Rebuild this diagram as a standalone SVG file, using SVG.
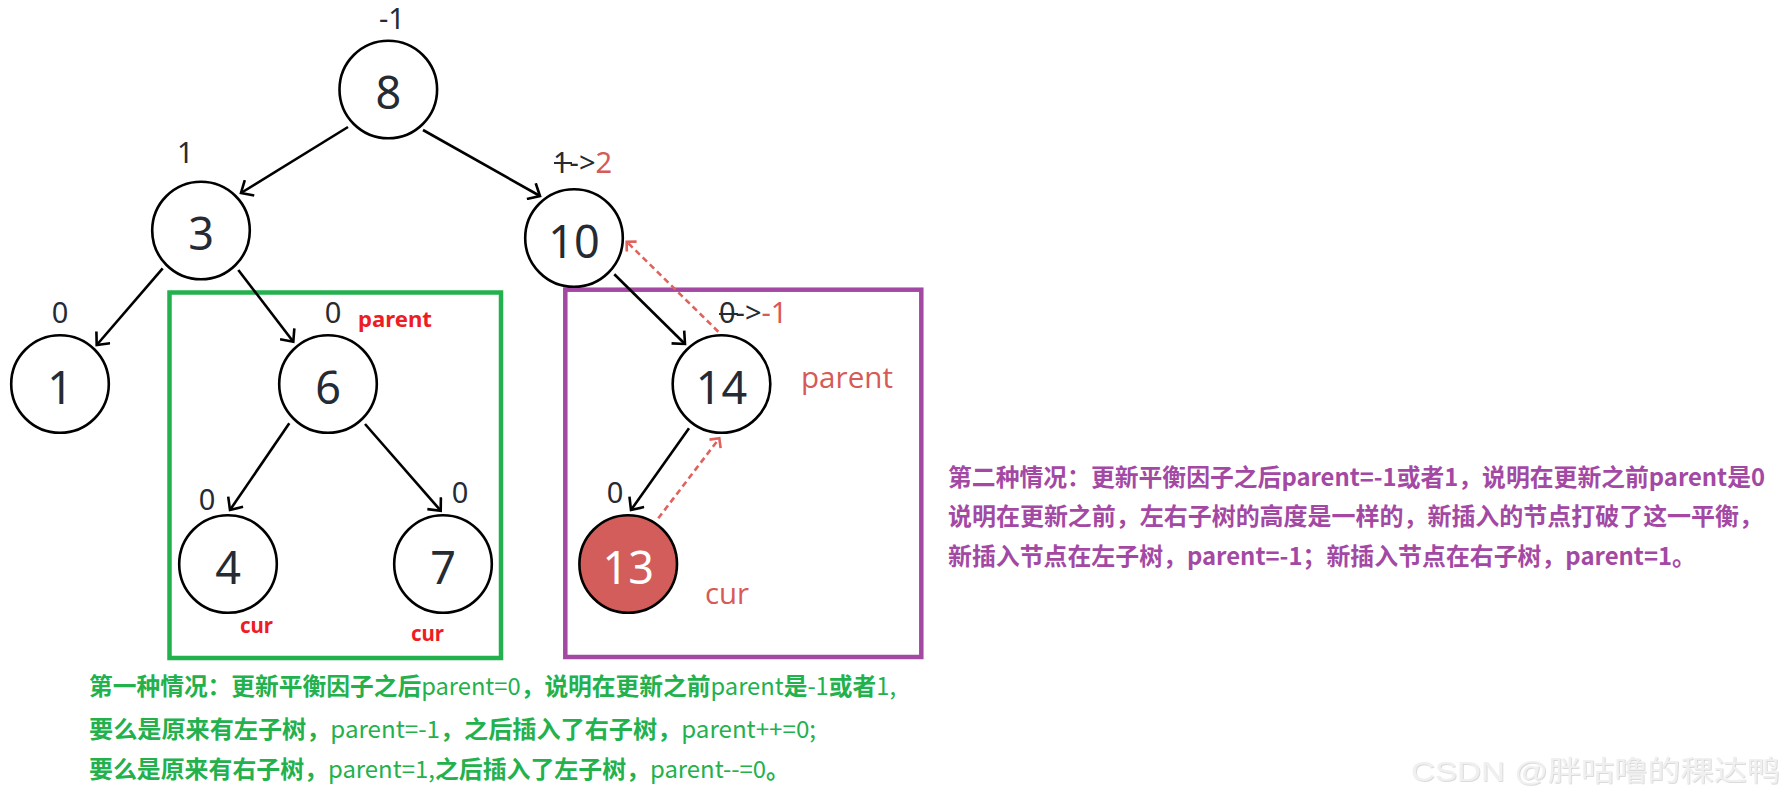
<svg xmlns="http://www.w3.org/2000/svg" width="1787" height="810" viewBox="0 0 1787 810">
<style>
.node circle{fill:#fff;stroke:#000;stroke-width:2.6}
.num{font-family:"Noto Sans","DejaVu Sans",sans-serif;font-size:45px;fill:#262b33;text-anchor:middle}
.bf{font-family:"Noto Sans","DejaVu Sans",sans-serif;font-size:29px;fill:#262b33}
.red{fill:#d65a56}
.edge{stroke:#000;stroke-width:2.6;fill:none;marker-end:url(#arr)}
.back{stroke:#e0625d;stroke-width:2.6;stroke-dasharray:6 4;fill:none;marker-end:url(#arrR)}
.lbl{font-family:"Open Sans","Noto Sans",sans-serif;font-size:30px;fill:#d65a56}
.lblb{font-family:"Noto Sans","Liberation Sans",sans-serif;font-weight:bold;font-size:22px;fill:#ee1c25}
.note{font-family:"Noto Sans CJK SC","Noto Sans",sans-serif;font-size:24px;font-weight:bold}
.g{fill:#22b14c}
.p{fill:#a349a4}
.lat{font-weight:normal}
</style>
<defs>
<marker id="arr" viewBox="0 0 20 20" refX="16" refY="10" markerWidth="20" markerHeight="20" markerUnits="userSpaceOnUse" orient="auto">
<path d="M6,1 L16,10 L6,19" fill="none" stroke="#000" stroke-width="2.6"/>
</marker>
<marker id="arrR" viewBox="0 0 20 20" refX="16" refY="10" markerWidth="20" markerHeight="20" markerUnits="userSpaceOnUse" orient="auto">
<path d="M9,3 L16,10 L9,17" fill="none" stroke="#e0625d" stroke-width="2.6"/>
</marker>
<filter id="emb" x="-5%" y="-20%" width="110%" height="150%">
<feDropShadow dx="0.8" dy="0.8" stdDeviation="0.5" flood-color="#9a9a9a" flood-opacity="0.45"/>
</filter>
</defs>
<rect width="1787" height="810" fill="#fff"/>

<g id="frames">
<rect x="169.5" y="292.5" width="331.5" height="365.5" fill="none" stroke="#22b14c" stroke-width="4.5"/>
<rect x="565.3" y="289.7" width="356" height="367.3" fill="none" stroke="#a349a4" stroke-width="4.5"/>
</g>

<g id="connectors">
<line class="edge" x1="348" y1="127" x2="241" y2="193"/>
<line class="edge" x1="423" y1="130" x2="540" y2="196"/>
<line class="edge" x1="162.7" y1="268.3" x2="96.7" y2="345"/>
<line class="edge" x1="238.3" y1="270" x2="293.3" y2="341.7"/>
<line class="edge" x1="289.3" y1="423.3" x2="230" y2="510"/>
<line class="edge" x1="365" y1="424" x2="440.7" y2="510.7"/>
<line class="edge" x1="614.3" y1="274.3" x2="685" y2="344"/>
<line class="edge" x1="689" y1="428.3" x2="631" y2="510"/>
<line class="back" x1="658.3" y1="518.3" x2="719.3" y2="438.3"/>
<line class="back" x1="718.3" y1="331.7" x2="626.7" y2="241.7"/>
</g>

<g id="node8" class="node"><circle cx="388.3" cy="89.5" r="48.8"/><text class="num" x="388.3" y="109">8</text></g>
<g id="node3" class="node"><circle cx="201" cy="230.5" r="48.8"/><text class="num" x="201" y="250">3</text></g>
<g id="node10" class="node"><circle cx="574" cy="238" r="48.8"/><text class="num" x="574" y="257.5">10</text></g>
<g id="node1" class="node"><circle cx="60" cy="384" r="48.8"/><text class="num" x="60" y="403.5">1</text></g>
<g id="node6" class="node"><circle cx="328" cy="384" r="48.8"/><text class="num" x="328" y="403.5">6</text></g>
<g id="node4" class="node"><circle cx="228" cy="564" r="48.8"/><text class="num" x="228" y="583.5">4</text></g>
<g id="node7" class="node"><circle cx="443" cy="564" r="48.8"/><text class="num" x="443" y="583.5">7</text></g>
<g id="node14" class="node"><circle cx="721.5" cy="384" r="48.8"/><text class="num" x="721.5" y="403.5">14</text></g>
<g id="node13" class="node"><circle cx="628.2" cy="564" r="48.8" style="fill:#d35d5a"/><text class="num" x="628.2" y="583.5" style="fill:#fff">13</text></g>

<g id="labels">
<text class="bf" x="379" y="29">-1</text>
<text class="bf" x="177" y="163">1</text>
<text class="bf" x="553" y="172.7">1-&gt;<tspan class="red">2</tspan></text>
<line x1="554" y1="163" x2="572" y2="163" stroke="#262b33" stroke-width="2"/>
<text class="bf" x="60" y="323" text-anchor="middle">0</text>
<text class="bf" x="333" y="323" text-anchor="middle">0</text>
<text class="bf" x="207" y="510" text-anchor="middle">0</text>
<text class="bf" x="460" y="503" text-anchor="middle">0</text>
<text class="bf" x="615" y="503" text-anchor="middle">0</text>
<text class="bf" x="719" y="323">0-&gt;<tspan class="red">-1</tspan></text>
<line x1="719" y1="314" x2="738" y2="314" stroke="#262b33" stroke-width="2"/>
<text class="lblb" x="358" y="327" textLength="74" lengthAdjust="spacingAndGlyphs">parent</text>
<text class="lblb" x="240" y="633" textLength="33" lengthAdjust="spacingAndGlyphs">cur</text>
<text class="lblb" x="411" y="641" textLength="33" lengthAdjust="spacingAndGlyphs">cur</text>
<text class="lbl" x="801" y="388" textLength="92" lengthAdjust="spacingAndGlyphs">parent</text>
<text class="lbl" x="705" y="604" textLength="44" lengthAdjust="spacingAndGlyphs">cur</text>
</g>

<g id="case1">
<text class="note g" x="89" y="695" textLength="807" lengthAdjust="spacingAndGlyphs">第一种情况：更新平衡因子之后<tspan class="lat">parent=0</tspan>，说明在更新之前<tspan class="lat">parent</tspan>是<tspan class="lat">-1</tspan>或者<tspan class="lat">1,</tspan></text>
<text class="note g" x="89" y="738" textLength="727" lengthAdjust="spacingAndGlyphs">要么是原来有左子树，<tspan class="lat">parent=-1</tspan>，之后插入了右子树，<tspan class="lat">parent++=0;</tspan></text>
<text class="note g" x="89" y="778" textLength="701" lengthAdjust="spacingAndGlyphs">要么是原来有右子树，<tspan class="lat">parent=1,</tspan>之后插入了左子树，<tspan class="lat">parent--=0</tspan>。</text>
</g>

<g id="case2">
<text class="note p" x="948" y="486" textLength="817" lengthAdjust="spacingAndGlyphs">第二种情况：更新平衡因子之后parent=-1或者1，说明在更新之前parent是0</text>
<text class="note p" x="948" y="525" textLength="815" lengthAdjust="spacingAndGlyphs">说明在更新之前，左右子树的高度是一样的，新插入的节点打破了这一平衡，</text>
<text class="note p" x="948" y="565" textLength="748" lengthAdjust="spacingAndGlyphs">新插入节点在左子树，parent=-1；新插入节点在右子树，parent=1。</text>
</g>

<text x="1411" y="781" textLength="369" lengthAdjust="spacingAndGlyphs" filter="url(#emb)" style="font-family:'Liberation Sans','Noto Sans CJK SC',sans-serif;font-size:28px;fill:#f0f0f0">CSDN @胖咕噜的稞达鸭</text>
</svg>
